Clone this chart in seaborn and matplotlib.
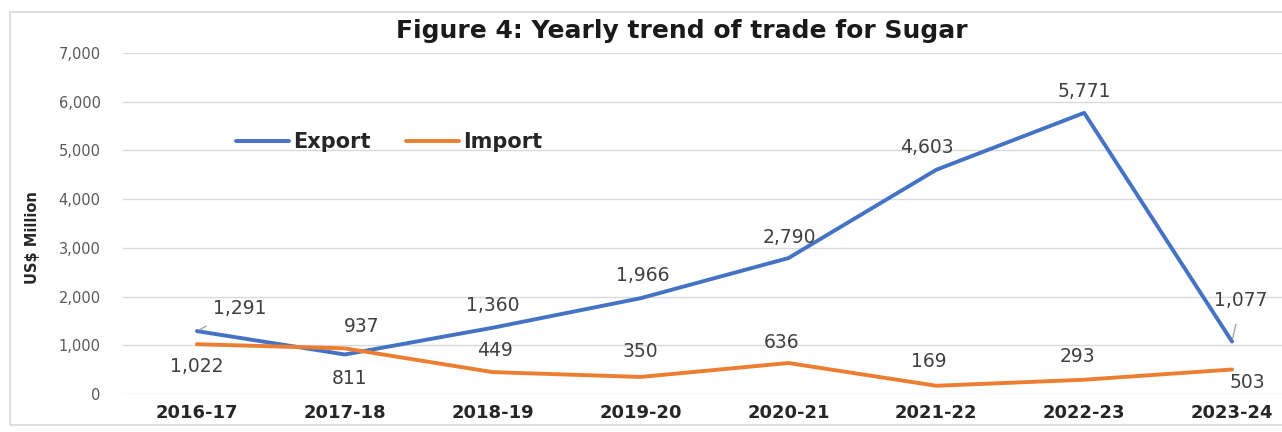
import matplotlib
matplotlib.use("Agg")
import matplotlib.pyplot as plt
from matplotlib.patches import Rectangle
import seaborn as sns
import pandas as pd

years = ["2016-17", "2017-18", "2018-19", "2019-20", "2020-21", "2021-22", "2022-23", "2023-24"]
export_vals = [1291, 811, 1360, 1966, 2790, 4603, 5771, 1077]
import_vals = [1022, 937, 449, 350, 636, 169, 293, 503]
y_ticks = [0, 1000, 2000, 3000, 4000, 5000, 6000, 7000]

# label offsets in pixels (dx, dy) and whether a leader line is drawn
export_offsets = [(43, 23, True), (5, -24, False), (0, 22, False), (2, 23, False),
                  (1, 21, False), (-9, 22, False), (0, 21, False), (9, 41, True)]
import_offsets = [(0, -22, False), (17, 22, True), (2, 22, False), (0, 25, False),
                  (-7, 21, False), (-7, 24, False), (-7, 23, False), (15, -13, False)]

BLUE = "#4472C4"
ORANGE = "#ED7D31"

sns.set_theme(style="white")
plt.rcParams["font.family"] = ["DejaVu Sans"]

df = pd.DataFrame({
    "Year": years * 2,
    "Value": export_vals + import_vals,
    "Series": ["Export"] * len(years) + ["Import"] * len(years),
})
df["x"] = list(range(len(years))) * 2

fig = plt.figure(figsize=(12.82, 4.32), dpi=100)
fig.patch.set_facecolor("white")
fig.patches.append(Rectangle((10 / 1282, 7 / 432), 1.2, (425 - 12) / 432,
                             transform=fig.transFigure, fill=False,
                             edgecolor="#D9D9D9", linewidth=1.2))

left = 123 / 1282
bottom = (432 - 394) / 432
top = (432 - 53) / 432
ax = fig.add_axes([left, bottom, 1 - left, top - bottom])

sns.lineplot(data=df, x="x", y="Value", hue="Series", palette=[BLUE, ORANGE],
             linewidth=2.8, ax=ax, legend=False, sort=False)

ax.set_xlim(-0.5, 7.5 - 24 / 148)
ax.set_ylim(0, 7000)
ax.set_yticks(y_ticks)
ax.set_yticklabels([f"{v:,}" for v in y_ticks], color="#595959", fontsize=10.5)
ax.set_xticks(range(len(years)))
ax.set_xticklabels(years, fontweight="bold", fontsize=13, color="#262626")
ax.tick_params(axis="x", pad=7, length=0)
ax.tick_params(axis="y", pad=16, length=0)
ax.grid(axis="y", color="#D9D9D9", linewidth=1)
ax.set_axisbelow(True)
for s in ax.spines.values():
    s.set_visible(False)
ax.set_xlabel("")
ax.set_ylabel("")

fig.text(33 / 1282, (432 - 238) / 432, "US$ Million", rotation=90, ha="center",
         va="center", fontsize=10.5, fontweight="bold", color="#262626")
fig.text(682 / 1282, (432 - 31) / 432, "Figure 4: Yearly trend of trade for Sugar",
         ha="center", va="center", fontsize=18, fontweight="bold", color="#1a1a1a")

# legend drawn as line handles without a frame
handles = [plt.Line2D([], [], color=BLUE, linewidth=2.8),
           plt.Line2D([], [], color=ORANGE, linewidth=2.8)]
fig.legend(handles, ["Export", "Import"], loc="center", ncol=2, frameon=False,
           bbox_to_anchor=(389 / 1282, (432 - 142) / 432), handlelength=2.55,
           handletextpad=0.2, columnspacing=1.7,
           prop={"weight": "bold", "size": 15})


def label_series(values, offsets):
    for i, (v, (dx, dy, leader)) in enumerate(zip(values, offsets)):
        ax.annotate(f"{v:,}", xy=(i, v), xytext=(dx, dy), textcoords="offset pixels",
                    ha="center", va="center", fontsize=13.5, color="#404040",
                    arrowprops=dict(arrowstyle="-", color="#A6A6A6", lw=1,
                                    shrinkA=8, shrinkB=2) if leader else None)


label_series(export_vals, export_offsets)
label_series(import_vals, import_offsets)

fig.savefig("out.png", dpi=100)
